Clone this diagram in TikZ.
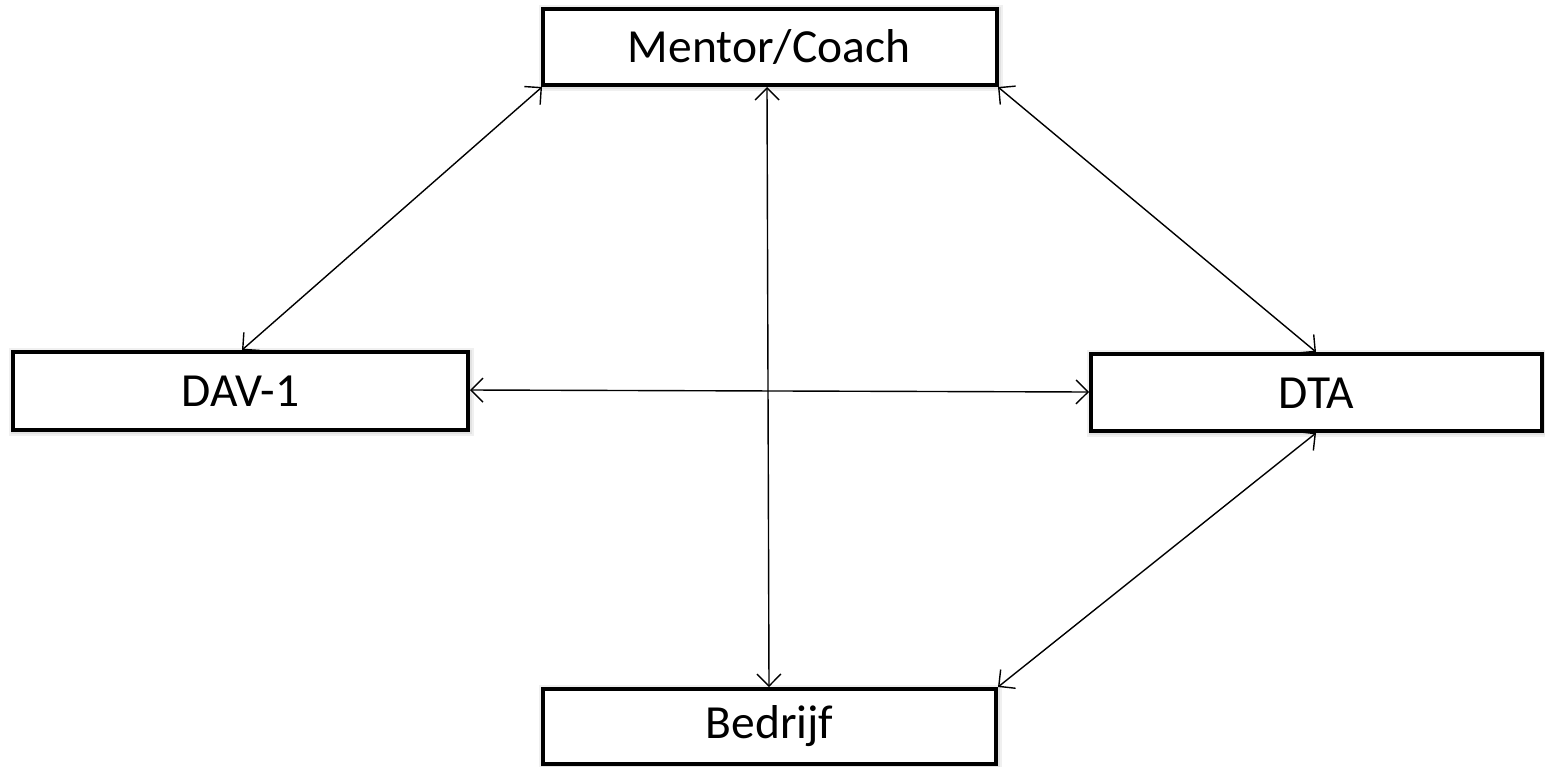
\documentclass[tikz,border=0pt]{standalone}
\usepackage{fontspec}
\setmainfont{Carlito}
\usetikzlibrary{arrows.meta,calc}
\begin{document}
\begin{tikzpicture}[x=1pt,y=-1pt,
  boxstyle/.style={draw=black,line width=3.8pt,fill=white},
  lbl/.style={font=\fontsize{47.5}{52}\selectfont},
  link/.style={line width=1.4pt,{Straight Barb[length=12pt,width=24pt]}-{Straight Barb[length=12pt,width=24pt]}}]
\useasboundingbox (0,0) rectangle (1545,766);
% shadows
\foreach \a/\b/\c/\d in {543/9/997/85, 13/352/468/430, 1091/354/1542/431, 543/689/996/764}{
  \fill[black,opacity=0.06] (\a-4,\b-4) rectangle (\c+6,\d+6);
  \fill[black,opacity=0.06] (\a-2,\b-2) rectangle (\c+4,\d+4);
}
\draw[boxstyle] (543,9) rectangle (997,85);
\node[lbl] (mentor) at (769,47) {Mentor/Coach};
\draw[boxstyle] (13,352) rectangle (468,430);
\node[lbl] (dav) at (240.5,391.5) {DAV-1};
\draw[boxstyle] (1091,354) rectangle (1542,431);
\node[lbl] (dta) at (1316.5,393) {DTA};
\draw[boxstyle] (543,689) rectangle (996,764);
\node[lbl] (bedrijf) at (769.5,726.5) {Bedrijf};
\coordinate (mBL) at (542,87);
\coordinate (mBR) at (998,87);
\coordinate (mB) at (767,87);
\coordinate (dT) at (242,350);
\coordinate (dR) at (470,390);
\coordinate (tL) at (1089,392);
\coordinate (tT) at (1316,352);
\coordinate (tB) at (1316,433);
\coordinate (bT) at (769,687);
\coordinate (bTR) at (998,687);
\draw[link] (dT) -- (mBL);
\draw[link] (mBR) -- (tT);
\draw[link] (mB) -- (bT);
\draw[link] (dR) -- (tL);
\draw[link] (tB) -- (bTR);
\end{tikzpicture}
\end{document}
